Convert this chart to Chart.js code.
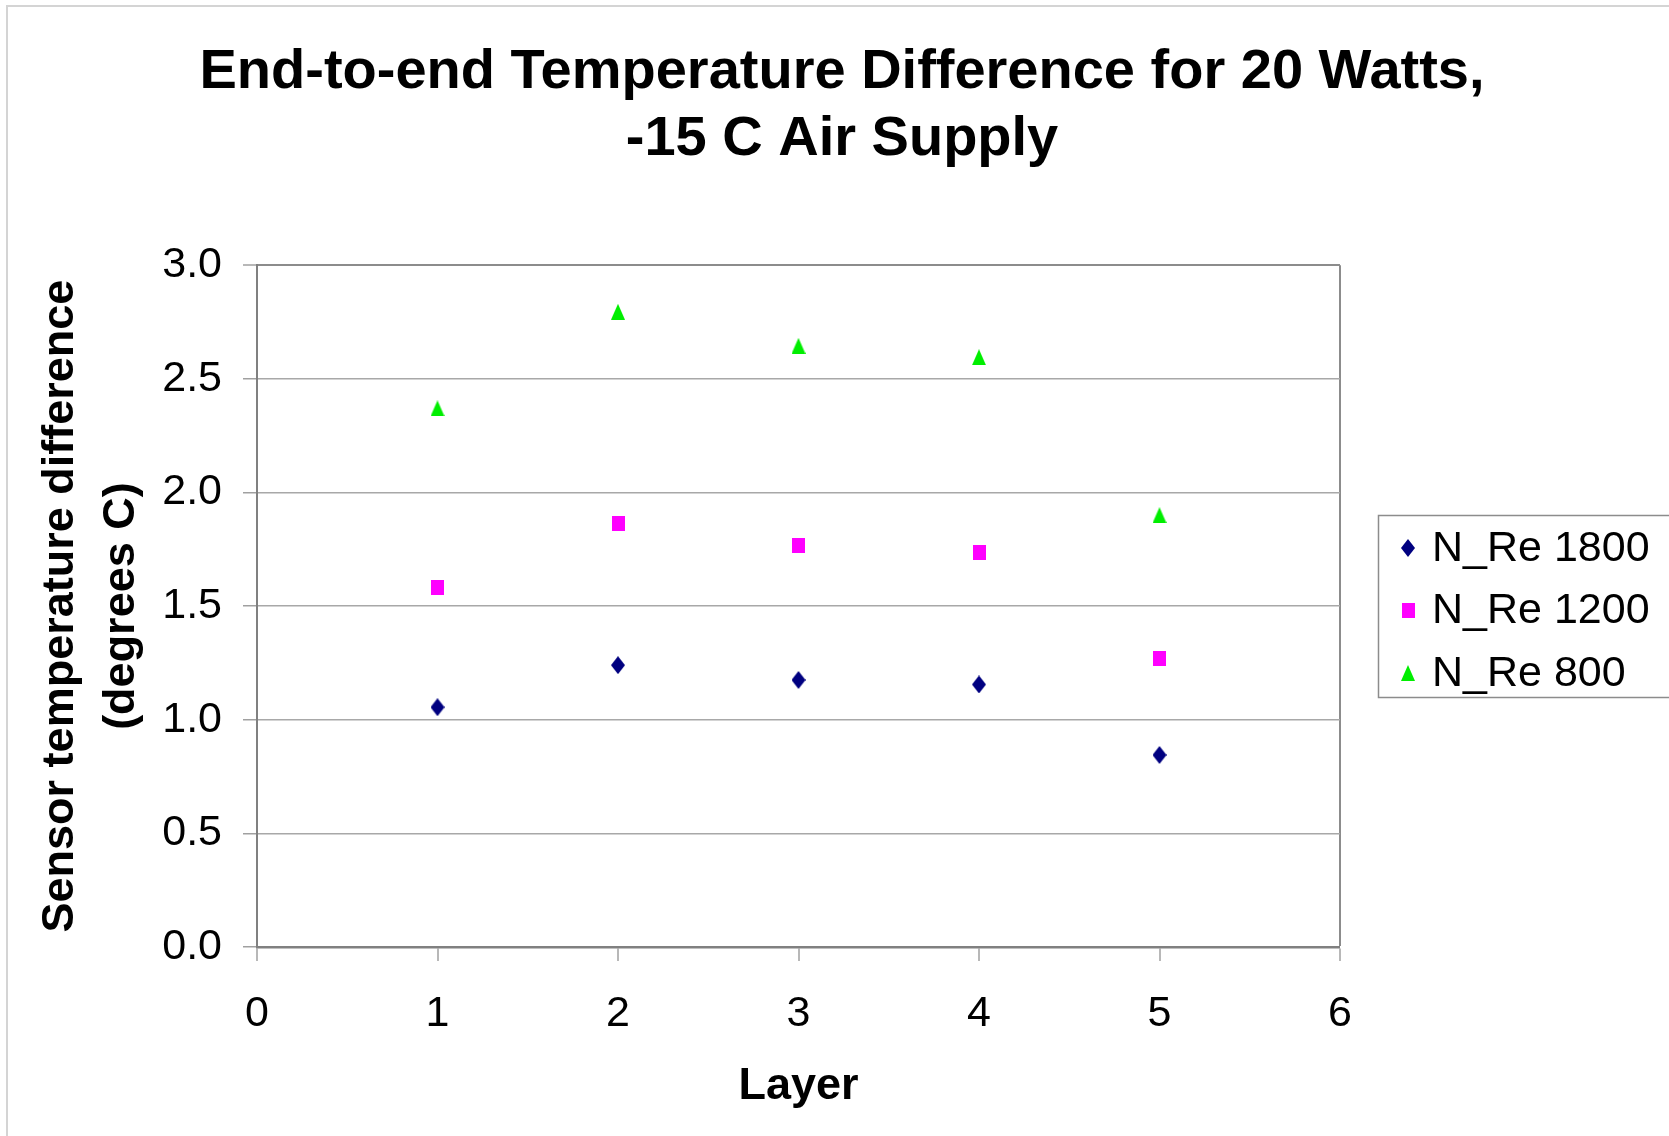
<!DOCTYPE html>
<html><head><meta charset="utf-8">
<script src="https://cdn.jsdelivr.net/npm/chart.js@4.4.0/dist/chart.umd.min.js"></script>
<style>html,body{margin:0;padding:0;background:#fff;} canvas{display:block;}</style>
</head><body>
<canvas id="c" width="1669" height="1136"></canvas>
<script>
// ---- data ----
const titleLines = ['End-to-end Temperature Difference for 20 Watts,', '-15 C Air Supply'];
const xAxisTitle = 'Layer';
const yAxisTitle = ['Sensor temperature difference', '(degrees C)'];
const layers = [1, 2, 3, 4, 5];
const seriesNames = ['N_Re 1800', 'N_Re 1200', 'N_Re 800'];
const re1800 = [1.055, 1.24, 1.175, 1.155, 0.845];
const re1200 = [1.58, 1.865, 1.765, 1.735, 1.27];
const re800 = [2.37, 2.795, 2.645, 2.595, 1.90];
const xTicks = [0, 1, 2, 3, 4, 5, 6];
const yTicks = [0, 0.5, 1.0, 1.5, 2.0, 2.5, 3.0];

// ---- styles ----
const FONT = '"Liberation Sans", Arial, Helvetica, sans-serif';
function marker(shape, color, w, h) {
  const c = document.createElement('canvas');
  c.width = w; c.height = h;
  const g = c.getContext('2d');
  g.fillStyle = color;
  g.beginPath();
  if (shape === 'diamond') {
    g.moveTo(w / 2, 0); g.lineTo(w, h / 2); g.lineTo(w / 2, h); g.lineTo(0, h / 2);
  } else if (shape === 'square') {
    g.rect(0, 0, w, h);
  } else {
    g.moveTo(w / 2, 0); g.lineTo(w, h); g.lineTo(0, h);
  }
  g.closePath(); g.fill();
  return c;
}
const styles = [
  {color: '#000080', pt: marker('diamond', '#000080', 14, 18)},
  {color: '#FF00FF', pt: marker('square', '#FF00FF', 13, 15)},
  {color: '#00EE00', pt: marker('triangle', '#00EE00', 14, 16)}
];
const seriesValues = [re1800, re1200, re800];

const datasets = seriesNames.map((name, i) => ({
  label: name,
  data: layers.map((x, j) => ({x: x, y: seriesValues[i][j]})),
  pointStyle: styles[i].pt,
  backgroundColor: styles[i].color,
  borderColor: styles[i].color,
  showLine: false
}));

const framePlugin = {
  id: 'frame',
  beforeDraw(chart) {
    const ctx = chart.ctx;
    ctx.save();
    ctx.fillStyle = '#fff';
    ctx.fillRect(0, 0, chart.width, chart.height);
    ctx.strokeStyle = '#d4d4d4';
    ctx.lineWidth = 2;
    ctx.strokeRect(7, 6, chart.width + 20, chart.height + 20);
    ctx.restore();
  },
  afterDraw(chart) {
    // legend box
    const ctx = chart.ctx;
    ctx.save();
    ctx.strokeStyle = '#8c8c8c';
    ctx.lineWidth = 1.5;
    ctx.strokeRect(1378.5, 515.5, 320, 182);
    ctx.font = '43px ' + FONT;
    ctx.fillStyle = '#000';
    ctx.textBaseline = 'middle';
    ctx.textAlign = 'left';
    const rowY = [548, 610, 673];
    chart.data.datasets.forEach((ds, i) => {
      const img = ds.pointStyle;
      ctx.drawImage(img, 1408 - img.width / 2, rowY[i] - img.height / 2, img.width, img.height);
      ctx.fillText(ds.label, 1432, rowY[i] + 1);
    });
    ctx.restore();
  }
};

new Chart(document.getElementById('c'), {
  type: 'scatter',
  data: {datasets},
  options: {
    responsive: false,
    animation: false,
    devicePixelRatio: 1,
    layout: {padding: {left: 15, right: 0, top: 0, bottom: 0}},
    elements: {point: {radius: 8, hoverRadius: 8}},
    plugins: {
      legend: {display: false},
      tooltip: {enabled: false},
      title: {
        display: true,
        text: titleLines,
        color: '#000',
        font: {family: FONT, size: 56, weight: 'bold', lineHeight: 1.18},
        padding: {top: 40, bottom: 93}
      }
    },
    scales: {
      x: {
        type: 'linear',
        min: 0, max: 6,
        afterBuildTicks: s => { s.ticks = xTicks.map(v => ({value: v})); },
        afterFit: s => { s.height = 1136 - 947; },
        ticks: {color: '#000', font: {family: FONT, size: 43}, padding: 27},
        grid: {
          drawOnChartArea: true,
          color: c => (c.tick && c.tick.value === 6) ? '#8c8c8c' : 'rgba(0,0,0,0)',
          lineWidth: c => (c.tick && c.tick.value === 6) ? 2 : 0,
          tickColor: '#a0a0a0',
          tickLength: 14,
          tickWidth: 1.5
        },
        border: {display: true, color: '#808080', width: 2.5},
        title: {display: true, text: xAxisTitle, color: '#000',
          font: {family: FONT, size: 45, weight: 'bold', lineHeight: 1.2},
          padding: {top: 0, bottom: 22}}
      },
      y: {
        type: 'linear',
        min: 0, max: 3,
        afterBuildTicks: s => { s.ticks = yTicks.map(v => ({value: v})); },
        afterFit: s => { s.width = 257 - 15; },
        ticks: {color: '#000', font: {family: FONT, size: 43}, padding: 21,
          callback: v => Number(v).toFixed(1)},
        grid: {
          color: c => (c.tick && c.tick.value === 3) ? '#8c8c8c' : '#a8a8a8',
          lineWidth: c => (c.tick && c.tick.value === 3) ? 2 : 1.5,
          tickColor: '#a0a0a0',
          tickLength: 14,
          tickWidth: 1.5
        },
        border: {display: true, color: '#808080', width: 2},
        title: {display: true, text: yAxisTitle, color: '#000',
          font: {family: FONT, size: 45, weight: 'bold', lineHeight: 1.36},
          padding: {top: 15, bottom: 0}}
      },
      yRight: {
        type: 'linear',
        position: 'right',
        min: 0, max: 3,
        afterFit: s => { s.width = 1669 - 1340; },
        ticks: {display: false},
        grid: {display: false},
        border: {display: false}
      }
    }
  },
  plugins: [framePlugin]
});
</script>
</body></html>
